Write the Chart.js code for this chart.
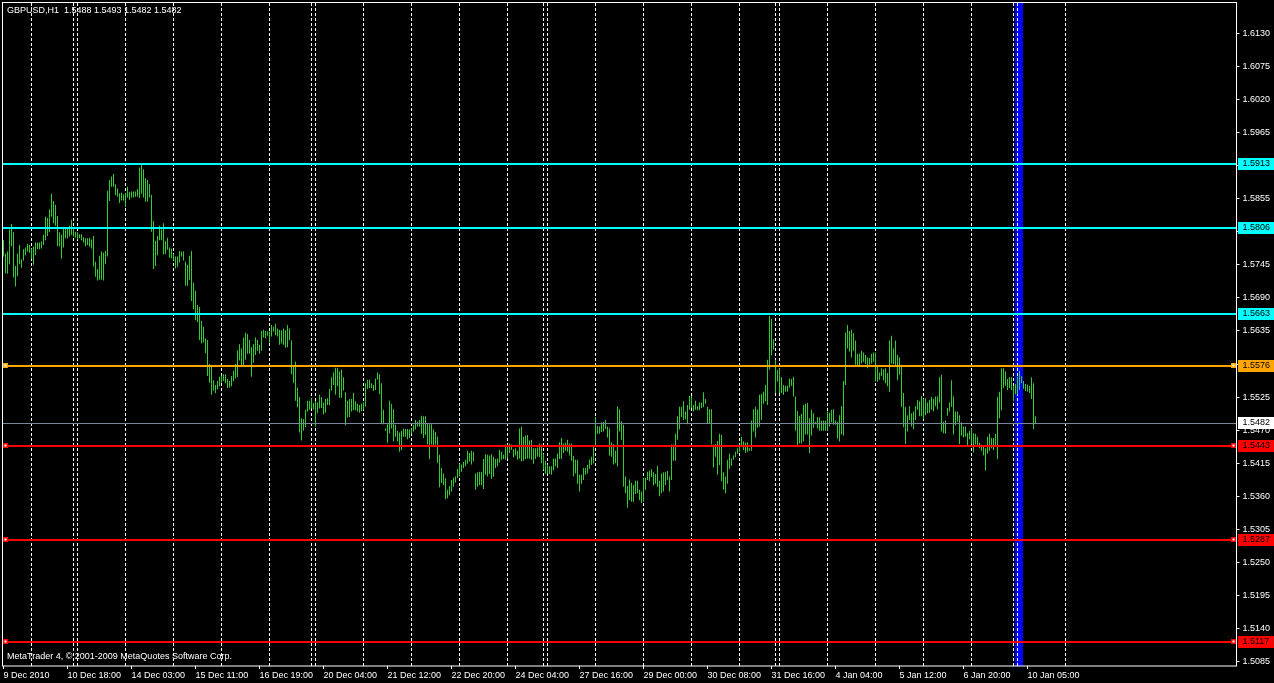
<!DOCTYPE html>
<html>
<head>
<meta charset="utf-8">
<script src="https://cdn.jsdelivr.net/npm/chart.js@4/dist/chart.umd.min.js"></script>
<style>
  html, body { margin: 0; padding: 0; background: #000; overflow: hidden; }
</style>
</head>
<body>
<canvas id="chartGbp" width="1274" height="683"></canvas>
<script>
// GBPUSD H1 bars, 9 Dec 2010 10:00 ... 10 Jan 2011 09:00 (high / low per bar)
const highs = [
  1.5786,1.5764,1.5767,1.5804,1.5813,1.5799,1.5743,1.5764,1.5778,1.5754,
  1.5771,1.5774,1.5780,1.5778,1.5772,1.5775,1.5782,1.5782,1.5782,1.5784,
  1.5795,1.5825,1.5823,1.5837,1.5863,1.5851,1.5845,1.5826,1.5799,1.5795,
  1.5807,1.5807,1.5807,1.5810,1.5820,1.5808,1.5800,1.5799,1.5796,1.5796,
  1.5791,1.5789,1.5789,1.5790,1.5787,1.5793,1.5750,1.5738,1.5760,1.5767,
  1.5765,1.5768,1.5868,1.5886,1.5892,1.5896,1.5879,1.5872,1.5864,1.5865,
  1.5862,1.5864,1.5875,1.5866,1.5867,1.5867,1.5867,1.5871,1.5907,1.5911,
  1.5904,1.5889,1.5886,1.5879,1.5861,1.5818,1.5785,1.5793,1.5810,1.5804,
  1.5814,1.5784,1.5790,1.5774,1.5772,1.5763,1.5759,1.5759,1.5768,1.5767,
  1.5767,1.5750,1.5745,1.5760,1.5768,1.5715,1.5702,1.5678,1.5675,1.5652,
  1.5642,1.5623,1.5620,1.5580,1.5575,1.5553,1.5545,1.5552,1.5559,1.5561,
  1.5563,1.5563,1.5555,1.5552,1.5560,1.5569,1.5580,1.5603,1.5613,1.5606,
  1.5624,1.5632,1.5630,1.5620,1.5608,1.5613,1.5624,1.5620,1.5612,1.5635,
  1.5637,1.5635,1.5634,1.5634,1.5645,1.5642,1.5647,1.5639,1.5637,1.5636,
  1.5639,1.5636,1.5645,1.5639,1.5619,1.5577,1.5584,1.5541,1.5525,1.5490,
  1.5488,1.5504,1.5519,1.5519,1.5523,1.5515,1.5519,1.5516,1.5529,
  1.5525,1.5516,1.5522,1.5523,1.5539,1.5558,1.5566,1.5574,1.5574,1.5568,1.5571,
  1.5558,1.5533,1.5519,1.5522,1.5522,1.5532,1.5518,1.5514,1.5512,1.5514,
  1.5516,1.5548,1.5554,1.5554,1.5548,1.5545,1.5556,1.5566,1.5563,1.5548,
  1.5504,1.5473,1.5480,1.5519,1.5514,1.5505,1.5479,1.5469,1.5466,1.5469,
  1.5473,1.5472,1.5472,1.5471,1.5473,1.5479,1.5487,1.5484,1.5487,1.5494,
  1.5493,1.5493,1.5482,1.5480,1.5480,1.5471,1.5467,1.5459,1.5429,1.5407,
  1.5398,1.5390,1.5371,1.5377,1.5387,1.5391,1.5393,1.5405,1.5414,1.5413,
  1.5417,1.5421,1.5436,1.5432,1.5436,1.5434,1.5398,1.5400,1.5401,1.5401,
  1.5422,1.5430,1.5429,1.5428,1.5430,1.5426,1.5422,1.5423,1.5437,1.5434,
  1.5429,1.5446,1.5446,1.5448,1.5446,1.5438,1.5440,1.5436,1.5473,1.5476,
  1.5459,1.5461,1.5462,1.5453,1.5454,1.5440,1.5440,1.5441,1.5448,1.5446,
  1.5431,1.5419,1.5413,1.5410,1.5410,1.5423,1.5423,1.5431,1.5450,1.5457,
  1.5448,1.5449,1.5454,1.5448,1.5448,1.5427,1.5421,1.5421,1.5396,1.5396,
  1.5407,1.5407,1.5412,1.5421,1.5426,1.5444,1.5492,1.5477,1.5476,1.5483,
  1.5484,1.5487,1.5476,1.5473,1.5450,1.5447,1.5436,1.5510,1.5505,1.5485,
  1.5479,1.5393,1.5377,1.5388,1.5382,1.5379,1.5386,1.5386,1.5371,1.5368,
  1.5390,1.5391,1.5401,1.5403,1.5405,1.5400,1.5397,1.5411,1.5386,1.5398,
  1.5400,1.5401,1.5402,1.5393,1.5446,1.5446,1.5464,1.5493,1.5509,
  1.5509,1.5518,1.5501,1.5512,1.5527,1.5527,1.5512,1.5519,1.5510,1.5516,1.5516,
  1.5533,1.5522,1.5509,1.5505,1.5505,1.5446,1.5447,1.5452,1.5464,1.5462,
  1.5400,1.5393,1.5421,1.5431,1.5423,1.5428,1.5434,1.5440,1.5446,1.5459,
  1.5451,1.5449,1.5450,1.5440,1.5486,1.5505,1.5509,1.5504,1.5529,1.5530,
  1.5534,1.5545,1.5587,1.5660,1.5655,1.5621,1.5587,1.5570,1.5573,1.5558,
  1.5545,1.5544,1.5544,1.5556,1.5555,1.5559,1.5526,1.5502,1.5494,1.5497,
  1.5512,1.5514,1.5515,1.5490,1.5504,1.5498,1.5484,1.5492,1.5491,1.5486,
  1.5486,1.5486,1.5501,1.5499,1.5504,1.5505,1.5486,1.5484,1.5495,1.5510,
  1.5552,1.5632,1.5645,1.5635,1.5637,1.5631,1.5619,1.5597,1.5597,1.5602,
  1.5599,1.5595,1.5591,1.5590,1.5597,1.5599,1.5599,1.5575,1.5566,1.5573,
  1.5571,1.5573,1.5565,1.5619,1.5627,1.5606,1.5619,1.5595,1.5591,1.5579,
  1.5532,1.5509,1.5495,1.5510,1.5498,1.5501,1.5510,1.5520,1.5518,1.5527,
  1.5522,1.5523,1.5516,1.5520,1.5525,1.5522,1.5526,1.5526,1.5558,1.5562,
  1.5484,1.5486,1.5507,1.5516,1.5553,1.5526,1.5501,1.5501,1.5495,1.5483,
  1.5476,1.5476,1.5465,1.5469,1.5473,1.5465,1.5464,1.5459,1.5449,1.5446,
  1.5442,1.5440,1.5459,1.5464,1.5457,1.5457,1.5464,1.5525,1.5534,1.5573,
  1.5573,1.5568,1.5555,1.5558,1.5558,1.5544,1.5547,1.5559,1.5569,1.5560,
  1.5552,1.5547,1.5546,1.5544,1.5558,1.5548,1.5493
];
const lows = [
  1.5759,1.5731,1.5730,1.5746,1.5776,1.5724,1.5709,1.5726,1.5746,1.5740,
  1.5752,1.5761,1.5767,1.5765,1.5755,1.5745,1.5761,1.5771,1.5771,1.5772,
  1.5778,1.5786,1.5793,1.5799,1.5825,1.5814,1.5810,1.5776,1.5776,1.5755,
  1.5774,1.5789,1.5789,1.5792,1.5795,1.5792,1.5790,1.5787,1.5789,1.5786,
  1.5782,1.5776,1.5778,1.5775,1.5772,1.5742,1.5725,1.5719,1.5720,1.5720,
  1.5719,1.5746,1.5759,1.5851,1.5875,1.5875,1.5861,1.5858,1.5848,1.5852,
  1.5852,1.5841,1.5857,1.5853,1.5857,1.5857,1.5858,1.5858,1.5856,1.5863,
  1.5857,1.5850,1.5850,1.5857,1.5800,1.5738,1.5743,1.5761,1.5786,1.5786,
  1.5762,1.5763,1.5770,1.5757,1.5756,1.5752,1.5739,1.5741,1.5749,1.5759,
  1.5752,1.5710,1.5710,1.5720,1.5685,1.5671,1.5653,1.5650,1.5620,1.5614,
  1.5616,1.5598,1.5560,1.5549,1.5529,1.5536,1.5532,1.5538,1.5543,1.5549,
  1.5552,1.5548,1.5540,1.5541,1.5543,1.5552,1.5556,1.5558,1.5586,1.5578,
  1.5578,1.5587,1.5597,1.5597,1.5559,1.5582,1.5595,1.5602,1.5597,1.5602,
  1.5624,1.5623,1.5627,1.5616,1.5626,1.5634,1.5628,1.5626,1.5612,1.5614,
  1.5612,1.5607,1.5608,1.5620,1.5563,1.5549,1.5519,1.5508,1.5466,1.5453,
  1.5469,1.5475,1.5501,1.5504,1.5506,1.5505,1.5476,1.5498,1.5506,
  1.5507,1.5496,1.5499,1.5512,1.5512,1.5536,1.5545,1.5529,1.5543,1.5524,1.5524,
  1.5536,1.5478,1.5491,1.5492,1.5501,1.5503,1.5503,1.5501,1.5499,1.5502,
  1.5504,1.5509,1.5539,1.5540,1.5540,1.5535,1.5537,1.5554,1.5530,1.5480,
  1.5480,1.5469,1.5449,1.5465,1.5473,1.5451,1.5459,1.5451,1.5434,1.5437,
  1.5459,1.5459,1.5455,1.5457,1.5464,1.5468,1.5471,1.5476,1.5476,1.5464,
  1.5457,1.5462,1.5446,1.5422,1.5446,1.5444,1.5446,1.5416,1.5375,1.5382,
  1.5379,1.5355,1.5357,1.5362,1.5368,1.5376,1.5383,1.5390,1.5393,1.5401,
  1.5407,1.5410,1.5414,1.5418,1.5413,1.5418,1.5371,1.5376,1.5379,1.5379,
  1.5372,1.5396,1.5393,1.5397,1.5389,1.5393,1.5407,1.5410,1.5416,1.5421,
  1.5422,1.5421,1.5423,1.5432,1.5437,1.5425,1.5428,1.5421,1.5423,1.5418,
  1.5419,1.5422,1.5423,1.5423,1.5421,1.5414,1.5422,1.5426,1.5425,1.5415,
  1.5404,1.5397,1.5398,1.5397,1.5396,1.5403,1.5410,1.5407,1.5422,1.5422,
  1.5432,1.5436,1.5434,1.5428,1.5419,1.5393,1.5398,1.5381,1.5368,1.5381,
  1.5387,1.5396,1.5398,1.5406,1.5412,1.5415,1.5443,1.5464,1.5464,1.5467,
  1.5468,1.5472,1.5458,1.5428,1.5426,1.5413,1.5415,1.5410,1.5468,1.5454,
  1.5376,1.5365,1.5341,1.5354,1.5351,1.5351,1.5364,1.5365,1.5354,1.5349,
  1.5351,1.5371,1.5387,1.5385,1.5392,1.5378,1.5381,1.5376,1.5360,1.5365,
  1.5368,1.5379,1.5387,1.5368,1.5387,1.5419,1.5419,1.5454,1.5471,
  1.5492,1.5487,1.5488,1.5480,1.5504,1.5507,1.5501,1.5504,1.5503,1.5503,1.5507,
  1.5508,1.5514,1.5482,1.5482,1.5446,1.5408,1.5426,1.5396,1.5412,1.5385,
  1.5371,1.5365,1.5381,1.5406,1.5411,1.5421,1.5425,1.5431,1.5434,1.5444,
  1.5437,1.5432,1.5434,1.5436,1.5436,1.5468,1.5458,1.5474,1.5476,1.5487,
  1.5514,1.5518,1.5512,1.5571,1.5594,1.5604,1.5532,1.5551,1.5532,1.5532,
  1.5529,1.5534,1.5534,1.5541,1.5544,1.5526,1.5469,1.5444,1.5448,1.5448,
  1.5451,1.5463,1.5463,1.5432,1.5461,1.5474,1.5480,1.5473,1.5469,1.5469,
  1.5469,1.5469,1.5469,1.5476,1.5483,1.5479,1.5479,1.5456,1.5451,1.5463,
  1.5461,1.5545,1.5606,1.5601,1.5591,1.5602,1.5579,1.5577,1.5577,1.5581,
  1.5584,1.5580,1.5573,1.5579,1.5581,1.5584,1.5551,1.5551,1.5554,1.5560,
  1.5553,1.5548,1.5543,1.5534,1.5581,1.5580,1.5576,1.5553,1.5562,1.5509,
  1.5475,1.5447,1.5468,1.5487,1.5476,1.5472,1.5487,1.5504,1.5493,1.5493,
  1.5488,1.5495,1.5498,1.5499,1.5504,1.5501,1.5510,1.5505,1.5516,1.5468,
  1.5465,1.5464,1.5494,1.5501,1.5509,1.5463,1.5478,1.5484,1.5447,1.5461,
  1.5458,1.5459,1.5444,1.5455,1.5447,1.5433,1.5446,1.5444,1.5440,1.5436,
  1.5428,1.5403,1.5431,1.5436,1.5440,1.5437,1.5443,1.5422,1.5490,1.5503,
  1.5540,1.5544,1.5537,1.5540,1.5537,1.5518,1.5530,1.5529,1.5537,1.5548,
  1.5539,1.5535,1.5534,1.5532,1.5522,1.5472,1.5482
];

// x axis: one label every 32 bars
const xTickLabels = [
  "9 Dec 2010", "10 Dec 18:00", "14 Dec 03:00", "15 Dec 11:00", "16 Dec 19:00",
  "20 Dec 04:00", "21 Dec 12:00", "22 Dec 20:00", "24 Dec 04:00", "27 Dec 16:00",
  "29 Dec 00:00", "30 Dec 08:00", "31 Dec 16:00", "4 Jan 04:00", "5 Jan 12:00",
  "6 Jan 20:00", "10 Jan 05:00"
];
const yTicks = [
  1.6130, 1.6075, 1.6020, 1.5965, 1.5910, 1.5855, 1.5800, 1.5745, 1.5690, 1.5635,
  1.5580, 1.5525, 1.5470, 1.5415, 1.5360, 1.5305, 1.5250, 1.5195, 1.5140, 1.5085
];

// bar index where each new day starts (period separators)
const daySeps = [14, 35, 37, 61, 85, 109, 133, 154, 156, 180, 204, 228, 252, 270, 272,
  296, 320, 344, 368, 386, 388, 412, 436, 460, 484, 505, 507, 531];
const blueLineBar = 508;

// horizontal levels
const levelPrices = [1.5913, 1.5806, 1.5663, 1.5576, 1.5443, 1.5287, 1.5117];
const levelColors = ["#00ffff", "#00ffff", "#00ffff", "#ffa500", "#ff0000", "#ff0000", "#ff0000"];
const levelMarked = [false, false, false, true, true, true, true];
const bidPrice = 1.5482;

const headerText = "GBPUSD,H1  1.5488 1.5493 1.5482 1.5482";
const footerText = "MetaTrader 4, \u00a9 2001-2009 MetaQuotes Software Corp.";

const nSlots = 617;
const slots = Array.from({ length: nSlots }, (_, i) => i);
const barData = highs.map((h, i) => [lows[i], h]);

const fontName = '"Liberation Sans", Arial, sans-serif';
const fontSize = 9;

// fondo, linea azul y separadores por debajo de las barras
const backPlugin = {
  id: "backPlugin",
  beforeDraw(chart) {
    const ctx = chart.ctx;
    ctx.save();
    ctx.fillStyle = "#000";
    ctx.fillRect(0, 0, chart.width, chart.height);
    ctx.restore();
  },
  beforeDatasetsDraw(chart) {
    const ctx = chart.ctx;
    const area = chart.chartArea;
    const xs = chart.scales.x;
    ctx.save();
    const bx = xs.getPixelForValue(blueLineBar);
    ctx.fillStyle = "#0000ff";
    ctx.fillRect(Math.round(bx - 4.5), area.top, 8, area.bottom - area.top);

    ctx.strokeStyle = "#ffffff";
    ctx.lineWidth = 1;
    ctx.setLineDash([3, 2]);
    daySeps.forEach(b => {
      const x = Math.floor(xs.getPixelForValue(b)) + 0.5;
      ctx.beginPath();
      ctx.moveTo(x, area.top);
      ctx.lineTo(x, area.bottom);
      ctx.stroke();
    });
    ctx.restore();
  }
};

// niveles, etiquetas y textos encima
const frontPlugin = {
  id: "frontPlugin",
  afterDatasetsDraw(chart) {
    const ctx = chart.ctx;
    const area = chart.chartArea;
    const ys = chart.scales.y;
    ctx.save();
    // bid line
    const by = Math.round(ys.getPixelForValue(bidPrice));
    ctx.fillStyle = "#778899";
    ctx.fillRect(area.left, by, area.right - area.left, 1);

    levelPrices.forEach((p, i) => {
      const y = Math.round(ys.getPixelForValue(p));
      ctx.fillStyle = levelColors[i];
      ctx.fillRect(area.left, y - 1, area.right - area.left, 2);
      if (levelMarked[i]) {
        [area.left + 3, area.right - 3].forEach(cx => {
          const sx = Math.round(cx - 2.5);
          ctx.fillStyle = levelColors[i];
          ctx.fillRect(sx, y - 3, 5, 5);
          ctx.fillStyle = "#ffffff";
          ctx.fillRect(sx + 1.5, y - 1.5, 2, 2);
        });
      }
    });
    ctx.restore();
  },
  afterDraw(chart) {
    const ctx = chart.ctx;
    const area = chart.chartArea;
    const ys = chart.scales.y;
    ctx.save();
    ctx.font = fontSize + "px " + fontName;
    ctx.textBaseline = "middle";
    ctx.textAlign = "left";

    // price boxes on the right axis
    const boxes = levelPrices.map((p, i) => [p, levelColors[i]]);
    boxes.push([bidPrice, "#ffffff"]);
    boxes.forEach(([p, col]) => {
      const y = Math.round(ys.getPixelForValue(p));
      ctx.fillStyle = col;
      ctx.fillRect(area.right + 1.5, y - 6, chart.width - area.right, 12);
      ctx.fillStyle = "#000000";
      ctx.fillText(p.toFixed(4), area.right + 6, y);
    });

    // frame
    ctx.strokeStyle = "#ffffff";
    ctx.lineWidth = 1;
    ctx.strokeRect(2.5, 2.5, area.right - 2.5, area.bottom - 2.5);

    // header / footer text
    ctx.fillStyle = "#ffffff";
    ctx.fillText(headerText, 7, 11);
    ctx.fillText(footerText, 7, 657);
    ctx.restore();
  }
};

const ctx = document.getElementById("chartGbp").getContext("2d");
const gbpChart = new Chart(ctx, {
  type: "bar",
  data: {
    labels: slots,
    datasets: [{
      data: barData,
      backgroundColor: "#32cd32",
      borderWidth: 0,
      inflateAmount: 0,
      barThickness: 1
    }]
  },
  options: {
    responsive: false,
    animation: false,
    devicePixelRatio: 1,
    layout: { padding: { left: 2.5, top: 3, right: 0, bottom: 0 } },
    plugins: { legend: { display: false }, tooltip: { enabled: false } },
    scales: {
      x: {
        type: "category",
        offset: true,
        border: { display: false },
        grid: { display: true, drawOnChartArea: false, drawTicks: true, tickLength: 3, color: "#ffffff", offset: false },
        ticks: {
          autoSkip: false,
          maxRotation: 0,
          minRotation: 0,
          align: "start",
          padding: 1,
          color: "#ffffff",
          font: { family: fontName, size: fontSize },
          callback: function(value, index) {
            if (index % 32 !== 0) return null;
            const lab = xTickLabels[index / 32];
            return lab === undefined ? null : lab;
          }
        },
        afterFit: function(s) {
          s.height = 17;
          s.paddingLeft = 0;
          s.paddingRight = 0;
        }
      },
      y: {
        type: "linear",
        position: "right",
        min: 1.507785,
        max: 1.618039,
        border: { display: false },
        grid: { display: true, drawOnChartArea: false, drawTicks: true, tickLength: 3, color: "#ffffff" },
        afterBuildTicks: function(s) {
          s.ticks = yTicks.map(v => ({ value: v }));
        },
        ticks: {
          autoSkip: false,
          padding: 3,
          color: "#ffffff",
          font: { family: fontName, size: fontSize },
          callback: function(v) { return Number(v).toFixed(4); }
        },
        afterFit: function(s) {
          s.width = 37.5;
          s.paddingTop = 0;
          s.paddingBottom = 0;
        }
      }
    }
  },
  plugins: [backPlugin, frontPlugin]
});
</script>
</body>
</html>
